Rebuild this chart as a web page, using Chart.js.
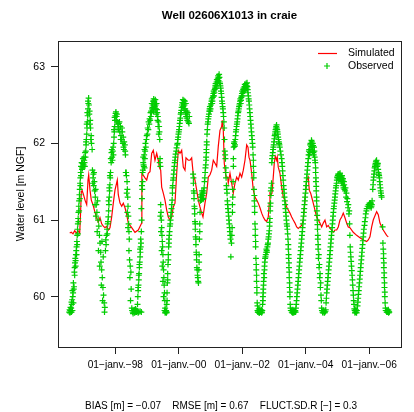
<!DOCTYPE html>
<html>
<head>
<meta charset="utf-8">
<script src="https://cdn.jsdelivr.net/npm/chart.js@4"></script>
<style>
  html, body { margin: 0; padding: 0; background: #fff; }
  #chart { display: block; }
</style>
</head>
<body>
<canvas id="chart" width="414" height="412"></canvas>
<script>
// ---------------------------------------------------------------------------
// Data - x in decimal years, y in m NGF
// ---------------------------------------------------------------------------
const titleText = "Well 02606X1013 in craie";
const yAxisLabel = "Water level [m NGF]";
const xTickYears = [1998, 2000, 2002, 2004, 2006];
const xTickLabels = ["01\u2212janv.\u221298", "01\u2212janv.\u221200", "01\u2212janv.\u221202", "01\u2212janv.\u221204", "01\u2212janv.\u221206"];
const yTicks = [60, 61, 62, 63];
const stats = [["BIAS [m]", "\u22120.07"], ["RMSE [m]", "0.67"], ["FLUCT.SD.R [\u2212]", "0.3"]];

// simulated heads
const simulated = [
  [1996.564, 60.83], [1996.614, 60.84], [1996.668, 60.82], [1996.721, 60.86], [1996.771, 60.83],
  [1996.825, 60.86], [1996.879, 60.83], [1996.904, 61.07], [1996.929, 61.37], [1996.951, 61.39],
  [1996.992, 61.34], [1997.045, 61.26], [1997.099, 61.20], [1997.140, 61.52], [1997.162, 61.59],
  [1997.203, 61.39], [1997.244, 61.26], [1997.297, 61.20], [1997.360, 61.10], [1997.414, 61.03],
  [1997.464, 60.97], [1997.518, 61.03], [1997.571, 60.95], [1997.622, 60.92], [1997.675, 60.90],
  [1997.729, 60.92], [1997.779, 60.87], [1997.833, 60.90], [1997.886, 61.04], [1997.937, 61.22],
  [1997.990, 61.39], [1998.063, 61.52], [1998.094, 61.33], [1998.148, 61.22], [1998.202, 61.18],
  [1998.252, 61.22], [1998.306, 61.16], [1998.359, 61.07], [1998.409, 60.96], [1998.517, 60.90],
  [1998.620, 60.84], [1998.724, 60.87], [1998.831, 60.96], [1998.837, 61.61], [1998.935, 61.55],
  [1998.989, 61.52], [1999.039, 61.61], [1999.093, 61.63], [1999.146, 61.87], [1999.197, 61.91],
  [1999.250, 61.78], [1999.304, 61.87], [1999.354, 61.78], [1999.386, 61.69], [1999.430, 61.65],
  [1999.461, 61.43], [1999.512, 61.35], [1999.565, 61.26], [1999.619, 61.13], [1999.669, 61.04],
  [1999.723, 61.00], [1999.776, 61.04], [1999.827, 61.17], [1999.880, 61.22], [1999.934, 61.61],
  [1999.984, 61.91], [2000.038, 61.87], [2000.091, 61.91], [2000.142, 61.69], [2000.195, 61.65],
  [2000.227, 61.81], [2000.299, 61.78], [2000.353, 61.78], [2000.406, 61.81], [2000.457, 61.59],
  [2000.510, 61.52], [2000.564, 61.39], [2000.614, 61.26], [2000.668, 61.17], [2000.721, 61.09],
  [2000.762, 61.04], [2000.825, 61.22], [2000.879, 61.35], [2000.929, 61.56], [2000.983, 61.59],
  [2001.036, 61.65], [2001.087, 61.78], [2001.140, 61.74], [2001.194, 61.70], [2001.244, 61.96],
  [2001.298, 62.17], [2001.351, 62.22], [2001.370, 62.30], [2001.402, 62.17], [2001.433, 61.74],
  [2001.487, 61.56], [2001.540, 61.56], [2001.559, 61.48], [2001.613, 61.61], [2001.666, 61.48],
  [2001.717, 61.35], [2001.770, 61.48], [2001.824, 61.56], [2001.874, 61.52], [2001.928, 61.61],
  [2001.981, 61.56], [2002.032, 61.65], [2002.085, 61.78], [2002.139, 61.98], [2002.180, 61.95],
  [2002.211, 61.82], [2002.243, 61.78], [2002.296, 61.61], [2002.347, 61.39], [2002.400, 61.30],
  [2002.454, 61.26], [2002.504, 61.22], [2002.558, 61.16], [2002.611, 61.09], [2002.662, 61.04],
  [2002.715, 61.00], [2002.769, 60.98], [2002.819, 61.04], [2002.850, 61.22], [2002.872, 61.35],
  [2002.904, 61.33], [2002.935, 61.35], [2002.976, 61.56], [2003.008, 61.74], [2003.039, 61.83],
  [2003.083, 61.78], [2003.102, 61.82], [2003.134, 61.69], [2003.187, 61.61], [2003.241, 61.43],
  [2003.291, 61.30], [2003.345, 61.26], [2003.398, 61.17], [2003.449, 61.13], [2003.502, 61.09],
  [2003.556, 61.04], [2003.606, 61.00], [2003.660, 60.96], [2003.713, 60.91], [2003.764, 60.89],
  [2003.817, 60.91], [2003.871, 60.93], [2003.921, 61.00], [2003.975, 61.26], [2004.028, 61.52],
  [2004.079, 61.56], [2004.110, 61.39], [2004.154, 61.35], [2004.186, 61.30], [2004.236, 61.22],
  [2004.290, 61.13], [2004.343, 61.04], [2004.394, 61.00], [2004.447, 60.96], [2004.501, 60.91],
  [2004.551, 60.96], [2004.605, 61.00], [2004.658, 60.91], [2004.709, 60.93], [2004.762, 60.89],
  [2004.816, 60.87], [2004.866, 60.84], [2004.920, 60.87], [2004.973, 60.87], [2005.024, 60.91],
  [2005.077, 61.00], [2005.131, 61.04], [2005.181, 61.09], [2005.235, 61.03], [2005.288, 60.96],
  [2005.339, 60.91], [2005.392, 60.90], [2005.496, 60.84], [2005.603, 60.80], [2005.707, 60.77],
  [2005.811, 60.74], [2005.918, 60.72], [2005.969, 60.74], [2006.022, 60.78], [2006.076, 60.91],
  [2006.126, 61.00], [2006.233, 61.11], [2006.284, 61.07], [2006.337, 60.96], [2006.441, 60.87],
  [2006.548, 60.80], [2006.598, 60.78]
];

// observed heads, one array per hydrological cycle
const obs1996 = [
  [1996.55, 59.80], [1996.57, 59.79], [1996.58, 59.82], [1996.60, 59.80], [1996.61, 59.85], [1996.62, 59.80],
  [1996.63, 59.90], [1996.64, 59.96], [1996.65, 59.82], [1996.66, 60.00], [1996.67, 60.05], [1996.68, 59.92],
  [1996.69, 60.10], [1996.70, 60.13], [1996.71, 60.32], [1996.72, 60.38], [1996.73, 60.44], [1996.74, 60.50],
  [1996.75, 60.47], [1996.76, 60.55], [1996.77, 60.60], [1996.78, 60.65], [1996.79, 60.72], [1996.80, 60.80],
  [1996.81, 60.88], [1996.82, 60.95], [1996.83, 61.02], [1996.84, 61.10], [1996.85, 61.18], [1996.86, 61.25],
  [1996.87, 61.33], [1996.88, 61.40], [1996.89, 61.48], [1996.90, 61.55], [1996.91, 61.62], [1996.92, 61.70],
  [1996.94, 61.75], [1996.96, 61.68], [1996.98, 61.80], [1997.00, 61.72], [1997.02, 61.78], [1997.04, 61.70],
  [1997.06, 61.82], [1997.07, 61.90], [1997.08, 61.98], [1997.09, 62.05], [1997.10, 62.12], [1997.11, 62.20],
  [1997.12, 62.28], [1997.13, 62.36], [1997.14, 62.45], [1997.15, 62.52], [1997.16, 62.59], [1997.17, 62.50],
  [1997.19, 62.42], [1997.21, 62.30], [1997.22, 62.20], [1997.24, 62.10], [1997.25, 62.00], [1997.27, 61.92],
  [1997.28, 61.65], [1997.30, 61.55], [1997.31, 61.60], [1997.32, 61.45], [1997.34, 61.50], [1997.35, 61.38],
  [1997.37, 61.30], [1997.38, 61.40], [1997.40, 61.20], [1997.42, 61.10], [1997.44, 61.25], [1997.46, 61.00],
  [1997.48, 60.92], [1997.50, 60.80], [1997.52, 60.70], [1997.54, 60.58], [1997.55, 60.45], [1997.57, 60.35],
  [1997.59, 60.25], [1997.61, 60.12], [1997.63, 60.02], [1997.65, 59.92], [1997.67, 59.86],
  [1996.56, 59.83], [1996.59, 59.86], [1996.62, 59.93], [1996.65, 60.08], [1996.68, 60.18], [1996.72, 60.28],
  [1996.75, 60.40], [1996.78, 60.55], [1996.80, 60.68], [1996.82, 60.82], [1996.84, 60.98], [1996.86, 61.12],
  [1996.88, 61.28], [1996.90, 61.45], [1996.92, 61.58], [1996.95, 61.66], [1996.97, 61.74], [1996.99, 61.70],
  [1997.01, 61.82], [1997.03, 61.75], [1997.05, 61.88], [1997.08, 62.02], [1997.10, 62.25], [1997.12, 62.40],
  [1997.14, 62.55], [1997.18, 62.38], [1997.20, 62.25], [1997.23, 62.05], [1997.29, 61.48], [1997.33, 61.62],
  [1997.36, 61.20], [1997.39, 61.05], [1997.43, 60.85], [1997.47, 60.60], [1997.51, 60.40], [1997.56, 60.15],
  [1997.60, 59.95], [1997.66, 59.80], [1997.62, 60.52], [1997.58, 60.72]
];
const obs1997 = [
  [1997.69, 60.60], [1997.70, 60.74], [1997.72, 60.80], [1997.74, 60.88], [1997.76, 60.95], [1997.78, 61.04],
  [1997.79, 61.12], [1997.80, 61.20], [1997.81, 61.30], [1997.82, 61.38], [1997.83, 61.46], [1997.84, 61.55],
  [1997.85, 61.62], [1997.86, 61.80], [1997.88, 61.88], [1997.90, 61.82], [1997.92, 61.90], [1997.94, 61.85],
  [1997.95, 62.00], [1997.96, 62.08], [1997.97, 62.15], [1997.98, 62.22], [1997.99, 62.30], [1998.00, 62.36],
  [1998.02, 62.41], [1998.04, 62.35], [1998.06, 62.28], [1998.09, 62.20], [1998.11, 62.26], [1998.14, 62.15],
  [1998.16, 62.22], [1998.18, 62.10], [1998.20, 62.05], [1998.22, 62.15], [1998.24, 62.00], [1998.26, 61.95],
  [1998.28, 62.02], [1998.31, 61.90], [1998.33, 61.62], [1998.35, 61.58], [1998.37, 61.50], [1998.38, 61.40],
  [1998.39, 61.30], [1998.40, 61.18], [1998.41, 61.05], [1998.42, 60.95], [1998.43, 60.85], [1998.44, 60.75],
  [1998.45, 60.48], [1998.47, 60.40], [1998.49, 60.32], [1998.50, 60.10], [1998.52, 59.85], [1998.55, 59.80],
  [1998.58, 59.82], [1998.61, 59.79], [1998.64, 59.84], [1998.67, 59.80], [1998.70, 59.81], [1998.74, 59.80],
  [1997.71, 60.68], [1997.75, 60.82], [1997.77, 60.98], [1997.79, 61.25], [1997.81, 61.42], [1997.83, 61.58],
  [1997.87, 61.75], [1997.89, 61.92], [1997.91, 61.78], [1997.93, 61.95], [1997.96, 62.18], [1997.98, 62.34],
  [1998.01, 62.39], [1998.03, 62.30], [1998.05, 62.38], [1998.08, 62.25], [1998.10, 62.18], [1998.13, 62.28],
  [1998.17, 62.05], [1998.21, 62.20], [1998.25, 62.08], [1998.27, 61.92], [1998.30, 61.98], [1998.32, 61.85],
  [1998.34, 61.62], [1998.36, 61.35], [1998.38, 61.10], [1998.40, 60.90], [1998.43, 60.60], [1998.46, 60.25],
  [1998.48, 59.95], [1998.53, 59.82], [1998.56, 59.78], [1998.60, 59.83], [1998.63, 59.80], [1998.66, 59.82],
  [1998.72, 59.79], [1998.78, 59.81], [1998.82, 59.80]
];
const obs1998 = [
  [1998.70, 59.90], [1998.71, 60.00], [1998.72, 60.08], [1998.73, 60.15], [1998.74, 60.22], [1998.75, 60.30],
  [1998.76, 60.38], [1998.77, 60.45], [1998.78, 60.52], [1998.79, 60.58], [1998.80, 60.65], [1998.81, 60.70],
  [1998.82, 60.85], [1998.83, 61.00], [1998.84, 61.28], [1998.85, 61.40], [1998.86, 61.50], [1998.87, 61.65],
  [1998.88, 61.75], [1998.90, 61.70], [1998.91, 61.85], [1998.92, 61.92], [1998.93, 61.80], [1998.95, 62.00],
  [1998.98, 62.05], [1999.01, 62.12], [1999.04, 62.18], [1999.07, 62.25], [1999.10, 62.30], [1999.12, 62.35],
  [1999.14, 62.40], [1999.16, 62.45], [1999.18, 62.50], [1999.20, 62.42], [1999.22, 62.55], [1999.24, 62.48],
  [1999.26, 62.57], [1999.28, 62.45], [1999.30, 62.52], [1999.32, 62.40], [1999.34, 62.35], [1999.36, 62.28],
  [1999.38, 62.22], [1999.39, 62.15], [1999.40, 62.05], [1999.41, 61.80], [1999.42, 61.70], [1999.43, 61.20],
  [1999.44, 61.10], [1999.45, 61.00], [1999.46, 60.90], [1999.47, 60.80], [1999.48, 60.72], [1999.49, 60.65],
  [1999.50, 60.55], [1999.51, 60.45], [1999.52, 60.35], [1999.53, 60.25], [1999.54, 60.15], [1999.55, 60.05],
  [1999.56, 59.95], [1999.57, 59.85], [1999.58, 59.80], [1999.60, 59.82], [1999.61, 59.79],
  [1998.72, 60.12], [1998.74, 60.28], [1998.76, 60.42], [1998.78, 60.62], [1998.80, 60.75], [1998.82, 61.15],
  [1998.84, 61.45], [1998.86, 61.62], [1998.88, 61.82], [1998.89, 61.72], [1998.92, 61.68], [1998.94, 61.90],
  [1998.96, 61.95], [1998.99, 62.10], [1999.02, 62.20], [1999.05, 62.28], [1999.08, 62.32], [1999.11, 62.40],
  [1999.13, 62.42], [1999.15, 62.52], [1999.17, 62.47], [1999.19, 62.55], [1999.21, 62.58], [1999.23, 62.50],
  [1999.25, 62.45], [1999.27, 62.50], [1999.29, 62.38], [1999.31, 62.44], [1999.33, 62.30], [1999.35, 62.22],
  [1999.37, 62.12], [1999.40, 61.75], [1999.42, 61.05], [1999.44, 60.85], [1999.46, 60.60], [1999.48, 60.40],
  [1999.50, 60.20], [1999.52, 60.00], [1999.55, 59.82], [1999.57, 59.79], [1999.59, 59.81], [1999.62, 59.80]
];
const obs1999 = [
  [1999.62, 59.90], [1999.63, 60.05], [1999.64, 60.18], [1999.65, 60.30], [1999.66, 60.42], [1999.67, 60.55],
  [1999.68, 60.65], [1999.69, 60.75], [1999.71, 60.85], [1999.73, 60.95], [1999.75, 61.05], [1999.77, 61.15],
  [1999.79, 61.26], [1999.80, 61.35], [1999.81, 61.45], [1999.82, 61.52], [1999.84, 61.60], [1999.86, 61.70],
  [1999.88, 61.78], [1999.90, 61.86], [1999.93, 61.94], [1999.96, 62.00], [1999.98, 62.08], [2000.00, 62.15],
  [2000.02, 62.22], [2000.04, 62.30], [2000.06, 62.38], [2000.08, 62.43], [2000.10, 62.50], [2000.13, 62.57],
  [2000.15, 62.52], [2000.17, 62.45], [2000.19, 62.55], [2000.21, 62.40], [2000.23, 62.35], [2000.25, 62.42],
  [2000.27, 62.30], [2000.30, 62.28], [2000.33, 62.35], [2000.45, 61.60], [2000.46, 61.48], [2000.47, 61.38],
  [2000.48, 61.28], [2000.49, 61.18], [2000.50, 61.08], [2000.51, 60.98], [2000.52, 60.88], [2000.53, 60.78],
  [2000.54, 60.68], [2000.55, 60.58], [2000.56, 60.48], [2000.57, 60.38], [2000.59, 60.28], [2000.61, 60.20],
  [2000.63, 60.35], [2000.64, 60.55], [2000.65, 60.75], [2000.66, 60.95], [2000.67, 61.10],
  [1999.63, 59.95], [1999.65, 60.22], [1999.67, 60.48], [1999.69, 60.70], [1999.70, 60.80], [1999.72, 60.92],
  [1999.74, 61.00], [1999.76, 61.10], [1999.78, 61.20], [1999.80, 61.42], [1999.83, 61.55], [1999.85, 61.65],
  [1999.87, 61.75], [1999.89, 61.82], [1999.92, 61.90], [1999.95, 61.98], [1999.97, 62.05], [1999.99, 62.12],
  [2000.01, 62.18], [2000.03, 62.26], [2000.05, 62.33], [2000.07, 62.40], [2000.09, 62.47], [2000.11, 62.53],
  [2000.14, 62.48], [2000.16, 62.56], [2000.18, 62.50], [2000.20, 62.45], [2000.22, 62.52], [2000.24, 62.38],
  [2000.26, 62.33], [2000.28, 62.40], [2000.32, 62.26], [2000.46, 61.55], [2000.48, 61.35], [2000.50, 61.15],
  [2000.52, 60.95], [2000.54, 60.75], [2000.56, 60.55], [2000.58, 60.35], [2000.60, 60.25], [2000.62, 60.18],
  [2000.64, 60.45], [2000.66, 60.85], [2000.68, 61.25]
];
const obs2000 = [
  [2000.69, 61.30], [2000.71, 61.26], [2000.73, 61.38], [2000.75, 61.32], [2000.77, 61.28], [2000.79, 61.35],
  [2000.81, 61.50], [2000.83, 61.62], [2000.85, 61.72], [2000.86, 61.82], [2000.87, 61.92], [2000.88, 62.02],
  [2000.89, 62.12], [2000.91, 62.25], [2000.93, 62.32], [2000.95, 62.38], [2000.97, 62.45], [2000.99, 62.42],
  [2001.01, 62.50], [2001.03, 62.55], [2001.05, 62.52], [2001.07, 62.60], [2001.09, 62.65], [2001.11, 62.62],
  [2001.13, 62.70], [2001.15, 62.75], [2001.17, 62.72], [2001.19, 62.80], [2001.21, 62.78], [2001.23, 62.85],
  [2001.25, 62.82], [2001.27, 62.90], [2001.29, 62.80], [2001.31, 62.75], [2001.33, 62.68], [2001.35, 62.60],
  [2001.37, 62.52], [2001.39, 62.45], [2001.41, 62.35], [2001.43, 62.20], [2001.44, 62.05], [2001.45, 61.90],
  [2001.47, 61.80], [2001.48, 61.68], [2001.49, 61.55], [2001.50, 61.45], [2001.52, 61.35], [2001.53, 61.25],
  [2001.55, 61.15], [2001.57, 61.05], [2001.59, 60.95], [2001.61, 60.85], [2001.63, 60.75], [2001.64, 60.52],
  [2001.66, 60.70],
  [2000.70, 61.33], [2000.72, 61.30], [2000.74, 61.35], [2000.76, 61.27], [2000.78, 61.38], [2000.80, 61.42],
  [2000.82, 61.55], [2000.84, 61.68], [2000.86, 61.78], [2000.87, 61.88], [2000.88, 61.98], [2000.90, 62.18],
  [2000.92, 62.28], [2000.94, 62.35], [2000.96, 62.42], [2000.98, 62.48], [2001.00, 62.45], [2001.02, 62.52],
  [2001.04, 62.58], [2001.06, 62.55], [2001.08, 62.62], [2001.10, 62.68], [2001.12, 62.66], [2001.14, 62.72],
  [2001.16, 62.78], [2001.18, 62.75], [2001.20, 62.83], [2001.22, 62.80], [2001.24, 62.88], [2001.26, 62.85],
  [2001.28, 62.86], [2001.30, 62.78], [2001.32, 62.72], [2001.34, 62.65], [2001.36, 62.55], [2001.38, 62.48],
  [2001.40, 62.40], [2001.42, 62.28], [2001.46, 61.85], [2001.48, 61.62], [2001.51, 61.40], [2001.54, 61.20],
  [2001.56, 61.10], [2001.58, 61.00], [2001.60, 60.90], [2001.62, 60.80]
];
const obs2001 = [
  [2001.68, 60.90], [2001.69, 61.10], [2001.70, 61.30], [2001.71, 61.50], [2001.72, 61.70], [2001.73, 61.95],
  [2001.75, 62.02], [2001.77, 61.98], [2001.79, 62.10], [2001.81, 62.18], [2001.83, 62.25], [2001.85, 62.32],
  [2001.87, 62.40], [2001.89, 62.45], [2001.91, 62.50], [2001.93, 62.55], [2001.95, 62.52], [2001.97, 62.60],
  [2001.99, 62.65], [2002.01, 62.62], [2002.03, 62.70], [2002.05, 62.68], [2002.07, 62.74], [2002.09, 62.70],
  [2002.11, 62.76], [2002.13, 62.72], [2002.15, 62.79], [2002.17, 62.70], [2002.19, 62.62], [2002.21, 62.55],
  [2002.23, 62.45], [2002.25, 62.35], [2002.27, 62.25], [2002.29, 62.15], [2002.31, 62.05], [2002.33, 61.95],
  [2002.34, 61.85], [2002.35, 61.70], [2002.36, 61.55], [2002.37, 61.40], [2002.38, 61.25], [2002.39, 61.10],
  [2002.40, 60.95], [2002.41, 60.80], [2002.42, 60.65], [2002.43, 60.50], [2002.44, 60.35], [2002.45, 60.20],
  [2002.46, 60.05], [2002.47, 59.92], [2002.48, 59.82], [2002.50, 59.80], [2002.52, 59.84], [2002.54, 59.79],
  [2002.56, 59.81], [2002.58, 59.80], [2002.60, 59.83], [2002.62, 59.80],
  [2001.67, 60.80], [2001.69, 61.20], [2001.70, 61.40], [2001.72, 61.80], [2001.74, 62.00], [2001.76, 61.96],
  [2001.78, 62.05], [2001.80, 62.15], [2001.82, 62.22], [2001.84, 62.28], [2001.86, 62.36], [2001.88, 62.42],
  [2001.90, 62.48], [2001.92, 62.52], [2001.94, 62.58], [2001.96, 62.56], [2001.98, 62.62], [2002.00, 62.68],
  [2002.02, 62.66], [2002.04, 62.72], [2002.06, 62.70], [2002.08, 62.77], [2002.10, 62.73], [2002.12, 62.78],
  [2002.14, 62.75], [2002.16, 62.74], [2002.18, 62.66], [2002.20, 62.58], [2002.22, 62.50], [2002.24, 62.40],
  [2002.26, 62.30], [2002.28, 62.20], [2002.30, 62.10], [2002.32, 62.00], [2002.35, 61.78], [2002.36, 61.62],
  [2002.38, 61.32], [2002.39, 61.18], [2002.41, 60.88], [2002.42, 60.72], [2002.44, 60.42], [2002.45, 60.28],
  [2002.46, 60.12], [2002.48, 59.88], [2002.49, 59.80], [2002.51, 59.82], [2002.53, 59.79], [2002.55, 59.83],
  [2002.57, 59.80], [2002.59, 59.82], [2002.61, 59.79]
];
const obs2002 = [
  [2002.64, 59.90], [2002.65, 60.00], [2002.66, 60.10], [2002.67, 60.20], [2002.68, 60.30], [2002.70, 60.40],
  [2002.72, 60.50], [2002.74, 60.55], [2002.76, 60.62], [2002.78, 60.58], [2002.80, 60.68], [2002.82, 60.75],
  [2002.84, 60.82], [2002.86, 60.92], [2002.87, 61.02], [2002.88, 61.12], [2002.89, 61.22], [2002.90, 61.32],
  [2002.91, 61.42], [2002.92, 61.48], [2002.94, 61.80], [2002.96, 61.88], [2002.98, 61.95], [2003.00, 62.02],
  [2003.02, 62.10], [2003.04, 62.15], [2003.06, 62.20], [2003.08, 62.24], [2003.10, 62.18], [2003.12, 62.12],
  [2003.14, 62.05], [2003.16, 62.00], [2003.18, 61.95], [2003.20, 61.90], [2003.24, 61.80], [2003.26, 61.70],
  [2003.28, 61.58], [2003.30, 61.45], [2003.32, 61.35], [2003.34, 61.25], [2003.36, 61.15], [2003.38, 61.05],
  [2003.40, 60.95], [2003.42, 60.88], [2003.44, 60.75], [2003.45, 60.62], [2003.46, 60.50], [2003.47, 60.38],
  [2003.48, 60.25], [2003.49, 60.12], [2003.50, 60.00], [2003.51, 59.90], [2003.53, 59.82], [2003.56, 59.80],
  [2003.59, 59.83], [2003.62, 59.79], [2003.65, 59.81], [2003.68, 59.80],
  [2002.63, 59.82], [2002.65, 59.95], [2002.66, 60.05], [2002.67, 60.15], [2002.69, 60.25], [2002.70, 60.35],
  [2002.71, 60.45], [2002.73, 60.52], [2002.75, 60.58], [2002.77, 60.60], [2002.79, 60.65], [2002.81, 60.70],
  [2002.83, 60.78], [2002.85, 60.86], [2002.86, 60.97], [2002.88, 61.18], [2002.90, 61.38], [2002.93, 61.75],
  [2002.95, 61.84], [2002.97, 61.92], [2002.99, 61.98], [2003.01, 62.06], [2003.03, 62.12], [2003.05, 62.18],
  [2003.07, 62.22], [2003.09, 62.20], [2003.11, 62.15], [2003.13, 62.08], [2003.15, 62.02], [2003.17, 61.98],
  [2003.22, 61.85], [2003.25, 61.75], [2003.27, 61.64], [2003.29, 61.52], [2003.31, 61.40], [2003.33, 61.30],
  [2003.35, 61.20], [2003.37, 61.10], [2003.39, 61.00], [2003.41, 60.92], [2003.43, 60.82], [2003.45, 60.68],
  [2003.46, 60.55], [2003.47, 60.44], [2003.48, 60.32], [2003.49, 60.18], [2003.50, 60.06], [2003.52, 59.85],
  [2003.55, 59.82], [2003.58, 59.79], [2003.61, 59.81], [2003.64, 59.80], [2003.67, 59.82]
];
const obs2003 = [
  [2003.70, 59.90], [2003.72, 60.00], [2003.74, 60.10], [2003.76, 60.20], [2003.78, 60.30], [2003.80, 60.40],
  [2003.82, 60.50], [2003.84, 60.60], [2003.86, 60.70], [2003.88, 60.80], [2003.90, 60.90], [2003.92, 61.00],
  [2003.94, 61.10], [2003.96, 61.20], [2003.98, 61.30], [2004.00, 61.40], [2004.02, 61.50], [2004.04, 61.60],
  [2004.06, 61.70], [2004.08, 61.80], [2004.10, 61.90], [2004.12, 61.85], [2004.14, 61.98], [2004.16, 61.92],
  [2004.18, 62.04], [2004.20, 61.95], [2004.22, 62.00], [2004.24, 61.88], [2004.26, 61.95], [2004.28, 61.82],
  [2004.30, 61.75], [2004.31, 61.62], [2004.32, 61.50], [2004.33, 61.38], [2004.34, 61.25], [2004.35, 61.12],
  [2004.36, 61.00], [2004.37, 60.88], [2004.38, 60.75], [2004.39, 60.62], [2004.40, 60.50], [2004.42, 60.38],
  [2004.44, 60.25], [2004.46, 60.12], [2004.48, 60.02], [2004.50, 59.85], [2004.53, 59.80], [2004.56, 59.82],
  [2004.59, 59.79], [2004.62, 59.81],
  [2003.69, 59.85], [2003.71, 59.95], [2003.73, 60.05], [2003.75, 60.15], [2003.77, 60.25], [2003.79, 60.35],
  [2003.81, 60.45], [2003.83, 60.55], [2003.85, 60.65], [2003.87, 60.75], [2003.89, 60.85], [2003.91, 60.95],
  [2003.93, 61.05], [2003.95, 61.15], [2003.97, 61.25], [2003.99, 61.35], [2004.01, 61.45], [2004.03, 61.55],
  [2004.05, 61.65], [2004.07, 61.75], [2004.09, 61.85], [2004.11, 61.92], [2004.13, 61.88], [2004.15, 62.00],
  [2004.17, 61.96], [2004.19, 62.02], [2004.21, 61.90], [2004.23, 61.97], [2004.25, 61.85], [2004.27, 61.90],
  [2004.29, 61.78], [2004.31, 61.68], [2004.32, 61.55], [2004.33, 61.44], [2004.34, 61.30], [2004.35, 61.18],
  [2004.36, 61.06], [2004.37, 60.94], [2004.38, 60.80], [2004.39, 60.68], [2004.41, 60.55], [2004.43, 60.42],
  [2004.45, 60.30], [2004.47, 60.18], [2004.49, 59.95], [2004.51, 59.82], [2004.54, 59.79], [2004.57, 59.81],
  [2004.60, 59.80], [2004.63, 59.83]
];
const obs2004 = [
  [2004.64, 59.92], [2004.66, 60.05], [2004.68, 60.15], [2004.70, 60.25], [2004.72, 60.35], [2004.74, 60.45],
  [2004.76, 60.55], [2004.78, 60.65], [2004.80, 60.75], [2004.82, 60.85], [2004.84, 60.95], [2004.86, 61.05],
  [2004.88, 61.15], [2004.90, 61.22], [2004.92, 61.30], [2004.94, 61.38], [2004.96, 61.45], [2004.98, 61.52],
  [2005.00, 61.55], [2005.02, 61.60], [2005.04, 61.52], [2005.06, 61.58], [2005.08, 61.61], [2005.10, 61.55],
  [2005.12, 61.50], [2005.14, 61.58], [2005.16, 61.52], [2005.18, 61.45], [2005.20, 61.50], [2005.22, 61.40],
  [2005.25, 61.42], [2005.28, 61.35], [2005.31, 61.28], [2005.34, 61.20], [2005.37, 61.12], [2005.38, 60.95],
  [2005.39, 60.80], [2005.40, 60.65], [2005.42, 60.52], [2005.44, 60.40], [2005.46, 60.28], [2005.48, 60.15],
  [2005.50, 60.02], [2005.52, 59.90], [2005.54, 59.82], [2005.56, 59.80], [2005.58, 59.83], [2005.60, 59.79],
  [2004.65, 59.98], [2004.67, 60.10], [2004.69, 60.20], [2004.71, 60.30], [2004.73, 60.40], [2004.75, 60.50],
  [2004.77, 60.60], [2004.79, 60.70], [2004.81, 60.80], [2004.83, 60.90], [2004.85, 61.00], [2004.87, 61.10],
  [2004.89, 61.18], [2004.91, 61.26], [2004.93, 61.34], [2004.95, 61.42], [2004.97, 61.48], [2004.99, 61.56],
  [2005.01, 61.58], [2005.03, 61.55], [2005.05, 61.60], [2005.07, 61.54], [2005.09, 61.58], [2005.11, 61.52],
  [2005.13, 61.56], [2005.15, 61.48], [2005.17, 61.54], [2005.19, 61.42], [2005.21, 61.46], [2005.24, 61.38],
  [2005.27, 61.30], [2005.30, 61.24], [2005.33, 61.16], [2005.36, 61.08], [2005.41, 60.58], [2005.43, 60.46],
  [2005.45, 60.34], [2005.47, 60.22], [2005.49, 60.08], [2005.51, 59.95], [2005.53, 59.84], [2005.55, 59.79],
  [2005.57, 59.82], [2005.59, 59.80], [2005.61, 59.82]
];
const obs2005 = [
  [2005.63, 59.88], [2005.65, 59.98], [2005.67, 60.08], [2005.69, 60.18], [2005.71, 60.28], [2005.73, 60.38],
  [2005.75, 60.48], [2005.77, 60.58], [2005.79, 60.68], [2005.81, 60.78], [2005.83, 60.88], [2005.86, 60.98],
  [2005.89, 61.08], [2005.92, 61.15], [2006.02, 61.18], [2006.04, 61.22], [2006.06, 61.16], [2006.08, 61.20],
  [2006.11, 61.40], [2006.13, 61.52], [2006.15, 61.60], [2006.17, 61.68], [2006.19, 61.72], [2006.21, 61.76],
  [2006.23, 61.78], [2006.25, 61.70], [2006.27, 61.74], [2006.29, 61.62], [2006.31, 61.58], [2006.33, 61.50],
  [2006.35, 61.42], [2006.37, 61.35], [2006.39, 61.30], [2006.42, 60.91], [2006.44, 60.62], [2006.45, 60.50],
  [2006.46, 60.38], [2006.47, 60.25], [2006.48, 60.12], [2006.49, 60.00], [2006.51, 59.85], [2006.54, 59.82],
  [2006.57, 59.80], [2006.60, 59.83], [2006.62, 59.81],
  [2005.64, 59.93], [2005.66, 60.03], [2005.68, 60.13], [2005.70, 60.23], [2005.72, 60.33], [2005.74, 60.43],
  [2005.76, 60.53], [2005.78, 60.63], [2005.80, 60.73], [2005.82, 60.83], [2005.85, 60.93], [2005.88, 61.03],
  [2005.91, 61.12], [2005.95, 61.18], [2005.98, 61.20], [2006.01, 61.22], [2006.03, 61.18], [2006.05, 61.22],
  [2006.07, 61.18], [2006.09, 61.25], [2006.12, 61.46], [2006.14, 61.56], [2006.16, 61.64], [2006.18, 61.70],
  [2006.20, 61.74], [2006.22, 61.77], [2006.24, 61.74], [2006.26, 61.72], [2006.28, 61.66], [2006.30, 61.60],
  [2006.32, 61.55], [2006.34, 61.46], [2006.36, 61.38], [2006.38, 61.32], [2006.43, 60.70], [2006.45, 60.56],
  [2006.46, 60.44], [2006.47, 60.31], [2006.48, 60.18], [2006.49, 60.06], [2006.50, 59.92], [2006.52, 59.82],
  [2006.55, 59.80], [2006.58, 59.82], [2006.61, 59.79], [2006.63, 59.80]
];

// ---------------------------------------------------------------------------
// Chart
// ---------------------------------------------------------------------------
const FONT = "'Liberation Sans', Arial, Helvetica, sans-serif";
const INK = "#000";
const OBS_GREEN = "#00CD00";
const SIM_RED = "#FF0000";

const toXY = arr => arr.map(d => ({ x: d[0], y: d[1] }));
const observed = [].concat(obs1996, obs1997, obs1998, obs1999, obs2000, obs2001, obs2002, obs2003, obs2004, obs2005);

// R-like frame, titles, legend and fit statistics
const rDecor = {
  id: "rDecor",
  afterDraw(chart) {
    const { ctx, chartArea: a } = chart;
    ctx.save();
    ctx.strokeStyle = "#222";
    ctx.lineWidth = 1;
    ctx.strokeRect(Math.round(a.left) + 0.5, Math.round(a.top) + 0.5,
      Math.round(a.right - a.left), Math.round(a.bottom - a.top));

    ctx.fillStyle = INK;
    ctx.textAlign = "center";
    ctx.textBaseline = "middle";
    ctx.font = "bold 11.5px " + FONT;
    ctx.fillText(titleText, (a.left + a.right) / 2, 16);

    ctx.font = "10px " + FONT;
    ctx.fillText(stats.map(s => s[0] + " = " + s[1]).join("    "), 221, 406);

    ctx.font = "10.5px " + FONT;
    ctx.save();
    ctx.translate(21, (a.top + a.bottom) / 2);
    ctx.rotate(-Math.PI / 2);
    ctx.fillText(yAxisLabel, 0, 0);
    ctx.restore();

    // legend (no box)
    ctx.textAlign = "left";
    ctx.fillText("Simulated", 348, 53);
    ctx.fillText("Observed", 348, 66);
    ctx.strokeStyle = SIM_RED;
    ctx.lineWidth = 1.2;
    ctx.beginPath();
    ctx.moveTo(318, 53.5);
    ctx.lineTo(337, 53.5);
    ctx.stroke();
    ctx.strokeStyle = OBS_GREEN;
    ctx.lineWidth = 1.2;
    ctx.beginPath();
    ctx.moveTo(324, 66); ctx.lineTo(330, 66);
    ctx.moveTo(327, 63); ctx.lineTo(327, 69);
    ctx.stroke();
    ctx.restore();
  }
};

new Chart(document.getElementById("chart"), {
  type: "scatter",
  data: {
    datasets: [
      {
        label: "Observed",
        data: toXY(observed),
        pointStyle: "cross",
        pointRadius: 3,
        borderColor: OBS_GREEN,
        backgroundColor: OBS_GREEN,
        borderWidth: 1.2,
        order: 0,
      },
      {
        label: "Simulated",
        data: toXY(simulated),
        showLine: true,
        borderColor: SIM_RED,
        borderWidth: 1.2,
        pointRadius: 0,
        tension: 0,
        order: 1,
      }
    ]
  },
  options: {
    responsive: false,
    animation: false,
    devicePixelRatio: 1,
    layout: { padding: { top: 41, right: 13, left: 0, bottom: 0 } },
    plugins: { legend: { display: false }, tooltip: { enabled: false } },
    scales: {
      x: {
        type: "linear",
        min: 1996.195,
        max: 2007.0,
        afterBuildTicks: s => { s.ticks = xTickYears.map(v => ({ value: v })); },
        afterFit: s => { s.height = 65; },
        grid: { drawOnChartArea: false, drawTicks: true, tickLength: 7, color: "#222" },
        border: { display: false },
        ticks: {
          autoSkip: false, maxRotation: 0, padding: 5, color: INK,
          font: { family: FONT, size: 10.2 },
          callback: v => xTickLabels[xTickYears.indexOf(v)],
        },
      },
      y: {
        type: "linear",
        min: 59.344,
        max: 63.335,
        afterBuildTicks: s => { s.ticks = yTicks.map(v => ({ value: v })); },
        afterFit: s => { s.width = 58; },
        grid: { drawOnChartArea: false, drawTicks: true, tickLength: 7, color: "#222" },
        border: { display: false },
        ticks: { padding: 6, color: INK, font: { family: FONT, size: 10.5 }, callback: v => String(v) },
      }
    }
  },
  plugins: [rDecor]
});
</script>
</body>
</html>
